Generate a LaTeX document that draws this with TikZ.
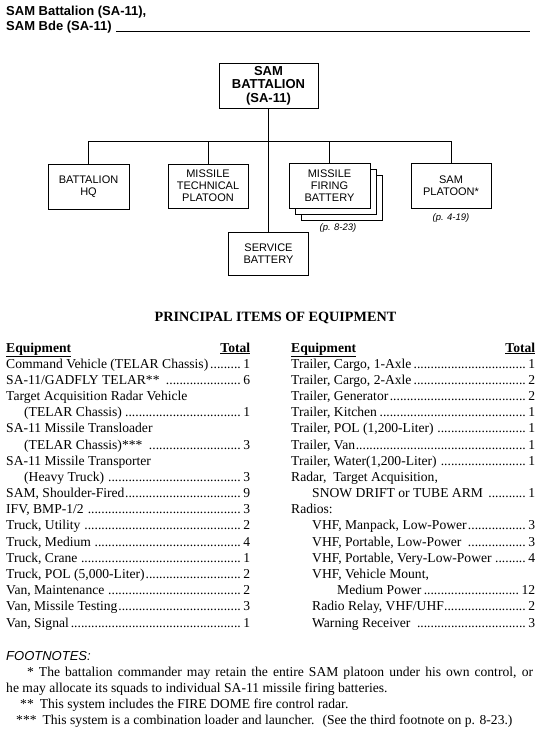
\documentclass[tikz,border=0pt]{standalone}
\usepackage{fontspec}
\setmainfont{Liberation Serif}
\newfontfamily\arialf{Liberation Sans}
\newcommand\dotlead{\leaders\hbox{.}\hfill}
\newcommand\tabfont{\fontsize{13.6}{15}\selectfont}
\begin{document}
\begin{tikzpicture}[x=1pt,y=-1pt,
  orgbox/.style={draw, line width=0.9pt, fill=white, align=center, inner sep=1pt,
    font=\arialf\fontsize{11}{12}\selectfont},
  topbox/.style={orgbox, font=\arialf\bfseries\fontsize{13}{13.5}\selectfont},
  conn/.style={line width=0.9pt},
  pageref/.style={font=\arialf\itshape\fontsize{9.5}{10}\selectfont, inner sep=0pt},
  rowl/.style={anchor=base west, inner sep=0pt, font=\tabfont},
  headf/.style={anchor=base west, inner sep=0pt, font=\arialf\bfseries\fontsize{13}{13.5}\selectfont},
]
\useasboundingbox (0,0) rectangle (550,730);
% header
\node[headf] (h1) at (6,16) {SAM Battalion (SA-11),};
\node[headf] (h2) at (6,31) {SAM Bde (SA-11)};
\coordinate (rulea) at (116,31.5);
\coordinate (ruleb) at (530,31.5);
\draw[line width=0.9pt] (rulea) -- (ruleb);

% org chart
\node[topbox, minimum width=99pt, minimum height=45pt] (top) at (268.5,85.5) {SAM\\BATTALION\\(SA-11)};
\node[orgbox, minimum width=81pt, minimum height=45pt] (hq) at (88.5,186.5) {BATTALION\\HQ};
\node[orgbox, minimum width=80pt, minimum height=44pt] (mtp) at (208,186) {MISSILE\\TECHNICAL\\PLATOON};
\node[orgbox, minimum width=80pt, minimum height=43pt] (svc) at (268.5,253.5) {SERVICE\\BATTERY};
\node[orgbox, minimum width=81pt, minimum height=45pt] (mfb3) at (341.5,197.5) {};
\node[orgbox, minimum width=81pt, minimum height=45pt] (mfb2) at (335.5,191.5) {};
\node[orgbox, minimum width=81pt, minimum height=45pt] (mfb) at (329.5,185.5) {MISSILE\\FIRING\\BATTERY};
\node[orgbox, minimum width=80pt, minimum height=45pt] (plt) at (451,185.5) {SAM\\PLATOON*};
\node[pageref] (pr1) at (338,228) {(p. 8-23)};
\node[pageref] (pr2) at (451,218) {(p. 4-19)};
\coordinate (bus) at (0,141);
\draw[conn] (top.south) -- (svc.north);
\draw[conn] (hq.north) -- (hq.north |- bus) -- (plt.north |- bus) -- (plt.north);
\draw[conn] (mtp.north) -- (mtp.north |- bus);
\draw[conn] (mfb.north) -- (mfb.north |- bus);

% title
\node[anchor=base, inner sep=0pt, font=\bfseries\fontsize{14.2}{15}\selectfont] (title) at (275.5,321) {PRINCIPAL ITEMS OF EQUIPMENT};

% left column
\node[rowl] (l0) at (6,352.00) {\makebox[244pt][s]{\textbf{\underline{Equipment}}\hfill\textbf{\underline{Total}}}};
\node[rowl] (l1) at (6,368.18) {\makebox[244pt][s]{Command Vehicle (TELAR Chassis)\dotlead 1}};
\node[rowl] (l2) at (6,384.36) {\makebox[244pt][s]{SA-11/GADFLY TELAR** \dotlead 6}};
\node[rowl] (l3) at (6,400.54) {Target Acquisition Radar Vehicle};
\node[rowl] (l4) at (6,416.72) {\makebox[244pt][s]{\hspace*{18pt}(TELAR Chassis)\dotlead 1}};
\node[rowl] (l5) at (6,432.90) {SA-11 Missile Transloader};
\node[rowl] (l6) at (6,449.08) {\makebox[244pt][s]{\hspace*{18pt}(TELAR Chassis)*** \dotlead 3}};
\node[rowl] (l7) at (6,465.26) {SA-11 Missile Transporter};
\node[rowl] (l8) at (6,481.44) {\makebox[244pt][s]{\hspace*{18pt}(Heavy Truck) \dotlead 3}};
\node[rowl] (l9) at (6,497.62) {\makebox[244pt][s]{SAM, Shoulder-Fired\dotlead 9}};
\node[rowl] (l10) at (6,513.80) {\makebox[244pt][s]{IFV, BMP-1/2 \dotlead 3}};
\node[rowl] (l11) at (6,529.98) {\makebox[244pt][s]{Truck, Utility \dotlead 2}};
\node[rowl] (l12) at (6,546.16) {\makebox[244pt][s]{Truck, Medium \dotlead 4}};
\node[rowl] (l13) at (6,562.34) {\makebox[244pt][s]{Truck, Crane \dotlead 1}};
\node[rowl] (l14) at (6,578.52) {\makebox[244pt][s]{Truck, POL (5,000-Liter)\dotlead 2}};
\node[rowl] (l15) at (6,594.70) {\makebox[244pt][s]{Van, Maintenance \dotlead 2}};
\node[rowl] (l16) at (6,610.88) {\makebox[244pt][s]{Van, Missile Testing\dotlead 3}};
\node[rowl] (l17) at (6,627.06) {\makebox[244pt][s]{Van, Signal\dotlead 1}};

% right column
\node[rowl] (r0) at (291,352.00) {\makebox[244pt][s]{\textbf{\underline{Equipment}}\hfill\textbf{\underline{Total}}}};
\node[rowl] (r1) at (291,368.18) {\makebox[244pt][s]{Trailer, Cargo, 1-Axle\dotlead 1}};
\node[rowl] (r2) at (291,384.36) {\makebox[244pt][s]{Trailer, Cargo, 2-Axle\dotlead 2}};
\node[rowl] (r3) at (291,400.54) {\makebox[244pt][s]{Trailer, Generator\dotlead 2}};
\node[rowl] (r4) at (291,416.72) {\makebox[244pt][s]{Trailer, Kitchen\dotlead 1}};
\node[rowl] (r5) at (291,432.90) {\makebox[244pt][s]{Trailer, POL (1,200-Liter) \dotlead 1}};
\node[rowl] (r6) at (291,449.08) {\makebox[244pt][s]{Trailer, Van\dotlead 1}};
\node[rowl] (r7) at (291,465.26) {\makebox[244pt][s]{Trailer, Water(1,200-Liter) \dotlead 1}};
\node[rowl] (r8) at (291,481.44) {Radar, \ Target Acquisition,};
\node[rowl] (r9) at (291,497.62) {\makebox[244pt][s]{\hspace*{21pt}SNOW DRIFT or TUBE ARM \dotlead 1}};
\node[rowl] (r10) at (291,513.80) {Radios:};
\node[rowl] (r11) at (291,529.98) {\makebox[244pt][s]{\hspace*{21pt}VHF, Manpack, Low-Power\dotlead 3}};
\node[rowl] (r12) at (291,546.16) {\makebox[244pt][s]{\hspace*{21pt}VHF, Portable, Low-Power \dotlead 3}};
\node[rowl] (r13) at (291,562.34) {\makebox[244pt][s]{\hspace*{21pt}VHF, Portable, Very-Low-Power \dotlead 4}};
\node[rowl] (r14) at (291,578.52) {\hspace*{21pt}VHF, Vehicle Mount,};
\node[rowl] (r15) at (291,594.70) {\makebox[244pt][s]{\hspace*{46pt}Medium Power\dotlead 12}};
\node[rowl] (r16) at (291,610.88) {\makebox[244pt][s]{\hspace*{21pt}Radio Relay, VHF/UHF\dotlead 2}};
\node[rowl] (r17) at (291,627.06) {\makebox[244pt][s]{\hspace*{21pt}Warning Receiver \dotlead 3}};

% footnotes
\node[anchor=base west, inner sep=0pt, font=\arialf\itshape\fontsize{13}{14}\selectfont] (fn) at (6,660) {FOOTNOTES:};
\node[rowl] (f1) at (27,676) {\makebox[506pt][s]{*\hspace*{5pt}The battalion commander may retain the entire SAM platoon under his own control, or}};
\node[rowl] (f2) at (6,692) {he may allocate its squads to individual SA-11 missile firing batteries.};
\node[rowl] (f3) at (20,708) {**\hspace*{6pt}This system includes the FIRE DOME fire control radar.};
\node[rowl] (f4) at (16,724) {***\hspace*{6pt}This system is a combination loader and launcher. \ (See the third footnote on p. 8-23.)};
\end{tikzpicture}
\end{document}
